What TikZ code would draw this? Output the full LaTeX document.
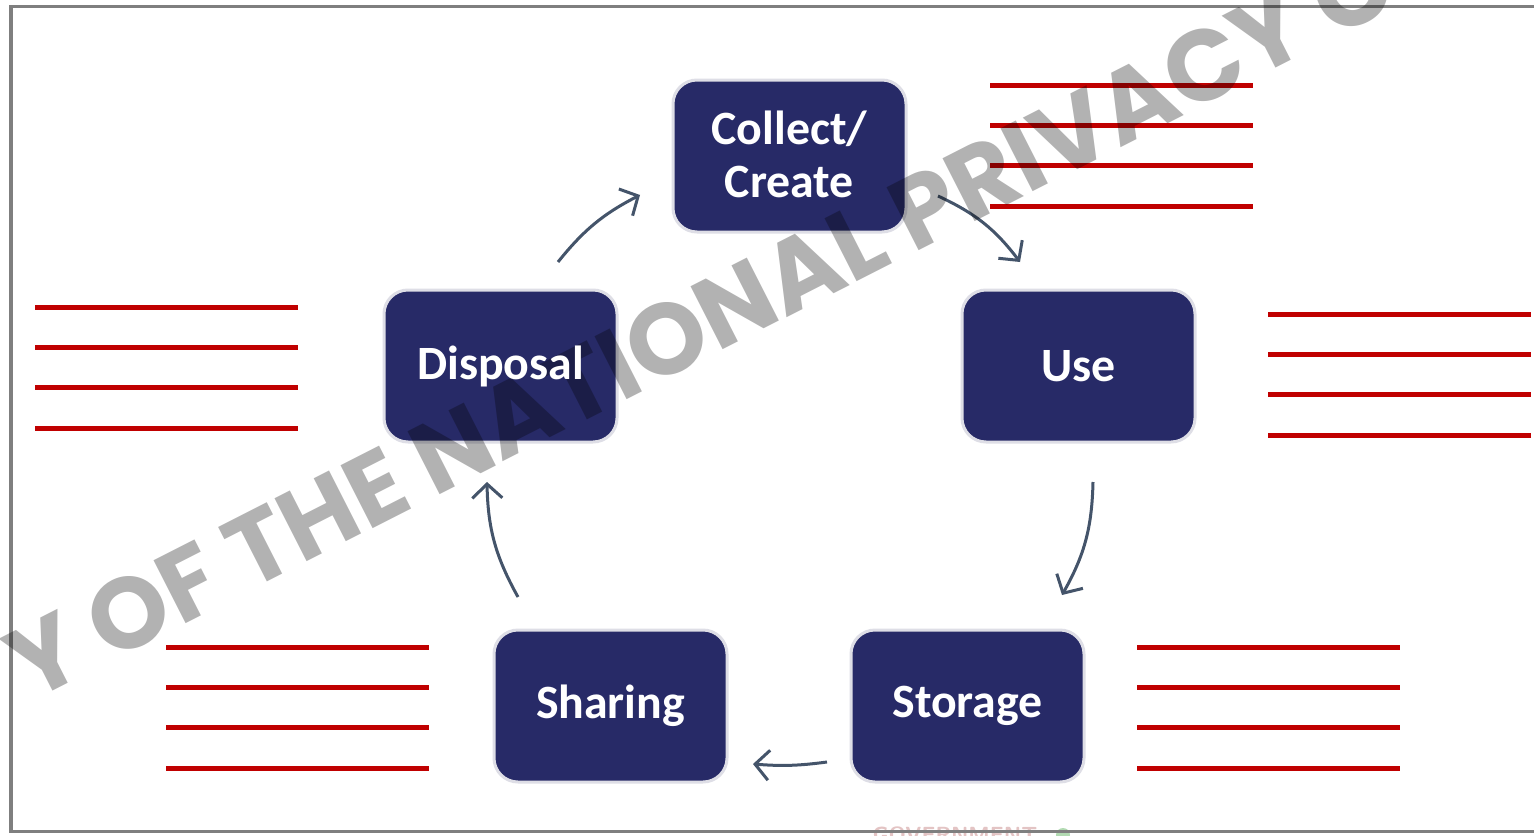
\documentclass[tikz,border=0pt]{standalone}
\usepackage{fontspec}
\setmainfont{Carlito}
\newfontfamily\wmfont{Poppins}
\usetikzlibrary{arrows.meta}
\definecolor{navy}{HTML}{272A67}
\definecolor{boxedge}{HTML}{DEDEE6}
\definecolor{slate}{HTML}{44546A}
\definecolor{redline}{HTML}{C00000}
\definecolor{framegray}{HTML}{7F7F7F}
\definecolor{faintred}{HTML}{C98A8A}
\definecolor{faintgreen}{HTML}{7FC27F}
\begin{document}
\begin{tikzpicture}[x=1bp,y=1bp,
  box/.style={draw=boxedge, line width=3bp, fill=navy, rounded corners=24bp,
    minimum width=233bp, minimum height=152bp, inner sep=0pt},
  lbl/.style={text=white, font=\fontsize{48}{53}\selectfont\bfseries, align=center, inner sep=0pt},
  flow/.style={draw=slate, line width=3bp, -{Straight Barb[length=14bp,width=30bp]}},
  rl/.style={draw=redline, line width=5bp},
  wm/.style={text=black, opacity=0.3, font=\wmfont\bfseries\fontsize{101}{101}\selectfont, inner sep=0pt}]
\useasboundingbox (0,0) rectangle (1534,-835);
\fill[white] (0,0) rectangle (1534,-835);
\begin{scope}
\clip (0,0) rectangle (1534,-835);
% faint bleed-through text at the bottom
\node[anchor=north, text=faintred, opacity=0.5, font=\sffamily\bfseries\fontsize{22}{22}\selectfont] (gov) at (955,-823) {\addfontfeature{LetterSpace=20}GOVERNMENT};
\fill[faintgreen, opacity=0.6] (1063,-835) circle (7);
% frame
\draw[framegray, line width=3.5bp] (11,-6.5) rectangle (1570,-831.5);
\end{scope}
% red line groups
\foreach \x/\y in {990/85, 35/307, 1268/314, 166/647, 1137/647}{
  \foreach \k in {0,1,2,3}{
    \draw[rl] (\x,-\y-40.4*\k) -- ++(263,0);
  }
}
% boxes
\node[box] (col) at (789.5,-156) {};
\node[box] (use) at (1078.5,-366) {};
\node[box] (sto) at (967.5,-706) {};
\node[box] (sha) at (610.5,-706) {};
\node[box] (dis) at (500.5,-366) {};
% arrow ends
\coordinate (a1s) at (558,-262);  \coordinate (a1e) at (640,-195);
\coordinate (a2s) at (938,-196);  \coordinate (a2e) at (1020,-262);
\coordinate (a3s) at (1093,-482); \coordinate (a3e) at (1062,-595);
\coordinate (a4s) at (827,-762);  \coordinate (a4e) at (753,-764);
\coordinate (a5s) at (518,-597);  \coordinate (a5e) at (487,-482);
\draw[flow] (a1s) to[bend left=12] (a1e);
\draw[flow] (a2s) to[bend left=14] (a2e);
\draw[flow] (a3s) to[bend left=14] (a3e);
\draw[flow] (a4s) to[bend left=6] (a4e);
\draw[flow] (a5s) to[bend left=14] (a5e);
% watermark
\begin{scope}
\clip (0,0) rectangle (1534,-835);
\node[wm, rotate=27] (mark) at (700,-322) {Y OF THE NATIONAL PRIVACY C};
\end{scope}
% labels
\node[lbl] (tcol) at ([yshift=2bp]col.center) {Collect/\\Create};
\node[lbl] (tuse) at (use) {Use};
\node[lbl] (tsto) at (sto) {Storage};
\node[lbl] (tsha) at (sha) {Sharing};
\node[lbl] (tdis) at (dis) {Disposal};
\end{tikzpicture}
\end{document}
